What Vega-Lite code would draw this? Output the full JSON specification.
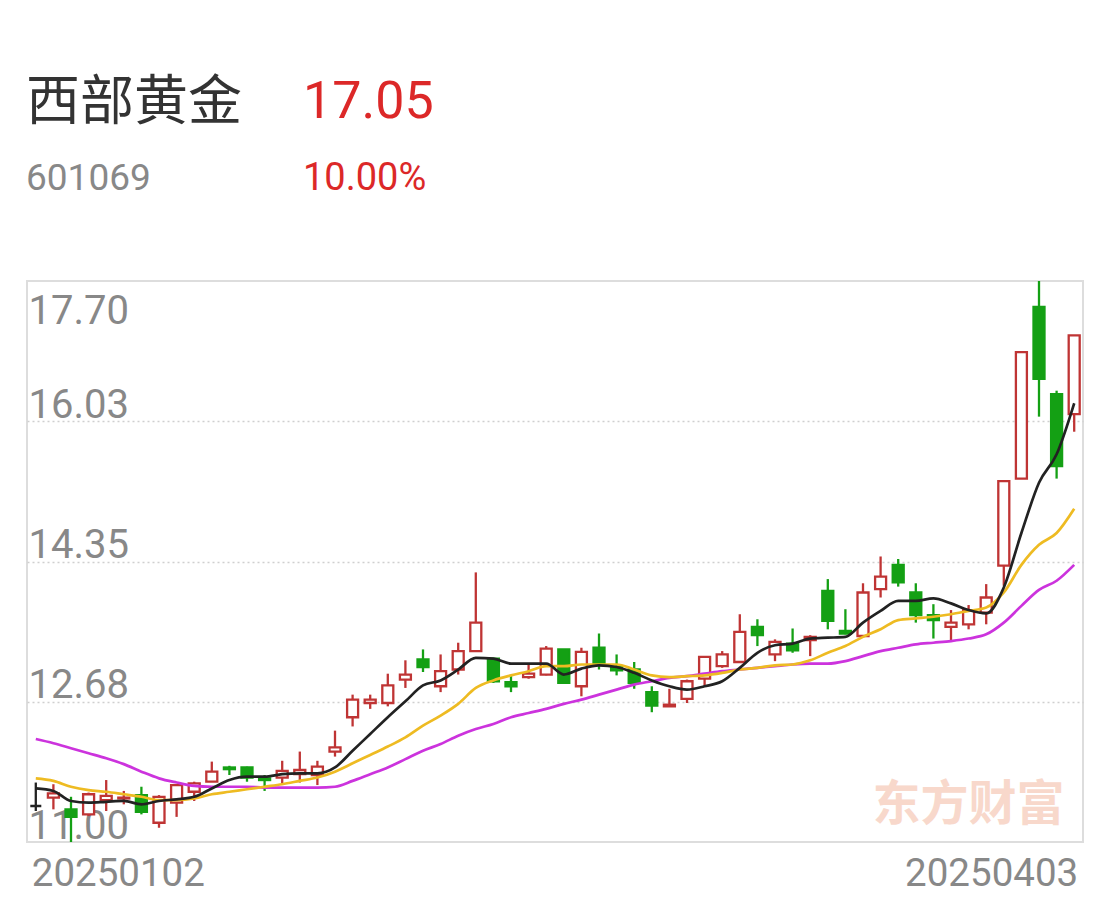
{
  "$schema": "https://vega.github.io/schema/vega-lite/v6.json",
  "background": "white",
  "padding": {"left": 26, "right": 26, "top": 74, "bottom": 0},
  "title": {"text": "西部黄金", "subtitle": "601069", "anchor": "start", "font": "Noto Sans CJK SC", "fontSize": 54, "fontWeight": "normal", "color": "#333333", "subtitleFont": "Roboto", "subtitleFontSize": 37, "subtitleColor": "#888888", "subtitlePadding": 30, "offset": -122, "dx": 0},
  "config": {"view": {"stroke": "#dddddd", "strokeWidth": 2}, "concat": {"spacing": 0}},
  "vconcat": [
    {
      "width": 1056,
      "height": 561,
      "title": {"text": "17.05", "subtitle": "10.00%", "anchor": "start", "font": "Roboto", "fontSize": 52, "fontWeight": "normal", "color": "#dc2828", "subtitleFont": "Roboto", "subtitleFontSize": 38, "subtitleColor": "#dc2828", "subtitlePadding": 31, "offset": 81, "dx": 276},
      "data": {"values": [
        {"d":"20250102","o":11.43,"h":11.71,"l":11.37,"c":11.43,"ma5":11.64,"ma10":11.76,"ma20":12.23},
        {"d":"20250103","o":11.53,"h":11.69,"l":11.39,"c":11.58,"ma5":11.61,"ma10":11.73,"ma20":12.18},
        {"d":"20250106","o":11.39,"h":11.54,"l":11.00,"c":11.30,"ma5":11.49,"ma10":11.66,"ma20":12.12},
        {"d":"20250107","o":11.33,"h":11.59,"l":11.31,"c":11.57,"ma5":11.47,"ma10":11.62,"ma20":12.06},
        {"d":"20250108","o":11.50,"h":11.74,"l":11.37,"c":11.55,"ma5":11.48,"ma10":11.60,"ma20":12.00},
        {"d":"20250109","o":11.52,"h":11.61,"l":11.45,"c":11.53,"ma5":11.49,"ma10":11.57,"ma20":11.93},
        {"d":"20250110","o":11.56,"h":11.66,"l":11.33,"c":11.36,"ma5":11.45,"ma10":11.54,"ma20":11.84},
        {"d":"20250113","o":11.23,"h":11.56,"l":11.17,"c":11.54,"ma5":11.49,"ma10":11.50,"ma20":11.76},
        {"d":"20250114","o":11.47,"h":11.69,"l":11.30,"c":11.68,"ma5":11.51,"ma10":11.50,"ma20":11.71},
        {"d":"20250115","o":11.60,"h":11.72,"l":11.49,"c":11.70,"ma5":11.54,"ma10":11.52,"ma20":11.67},
        {"d":"20250116","o":11.72,"h":11.96,"l":11.72,"c":11.84,"ma5":11.64,"ma10":11.57,"ma20":11.66},
        {"d":"20250117","o":11.89,"h":11.91,"l":11.80,"c":11.87,"ma5":11.74,"ma10":11.60,"ma20":11.66},
        {"d":"20250120","o":11.89,"h":11.90,"l":11.72,"c":11.77,"ma5":11.78,"ma10":11.63,"ma20":11.66},
        {"d":"20250121","o":11.76,"h":11.80,"l":11.61,"c":11.74,"ma5":11.78,"ma10":11.66,"ma20":11.65},
        {"d":"20250122","o":11.77,"h":11.97,"l":11.70,"c":11.85,"ma5":11.81,"ma10":11.69,"ma20":11.65},
        {"d":"20250123","o":11.81,"h":12.08,"l":11.71,"c":11.86,"ma5":11.82,"ma10":11.73,"ma20":11.65},
        {"d":"20250124","o":11.80,"h":11.97,"l":11.68,"c":11.90,"ma5":11.82,"ma10":11.77,"ma20":11.65},
        {"d":"20250127","o":12.08,"h":12.33,"l":12.02,"c":12.13,"ma5":11.89,"ma10":11.84,"ma20":11.66},
        {"d":"20250205","o":12.49,"h":12.76,"l":12.38,"c":12.70,"ma5":12.09,"ma10":11.94,"ma20":11.73},
        {"d":"20250206","o":12.66,"h":12.76,"l":12.59,"c":12.70,"ma5":12.29,"ma10":12.04,"ma20":11.81},
        {"d":"20250207","o":12.66,"h":13.01,"l":12.62,"c":12.87,"ma5":12.49,"ma10":12.14,"ma20":11.89},
        {"d":"20250210","o":12.94,"h":13.17,"l":12.84,"c":13.00,"ma5":12.68,"ma10":12.25,"ma20":11.99},
        {"d":"20250211","o":13.18,"h":13.30,"l":13.03,"c":13.09,"ma5":12.87,"ma10":12.39,"ma20":12.09},
        {"d":"20250212","o":12.86,"h":13.24,"l":12.79,"c":13.04,"ma5":12.93,"ma10":12.51,"ma20":12.17},
        {"d":"20250213","o":13.06,"h":13.38,"l":13.00,"c":13.28,"ma5":13.06,"ma10":12.65,"ma20":12.27},
        {"d":"20250214","o":13.28,"h":14.22,"l":13.27,"c":13.62,"ma5":13.20,"ma10":12.84,"ma20":12.35},
        {"d":"20250217","o":13.19,"h":13.20,"l":12.90,"c":12.92,"ma5":13.19,"ma10":12.93,"ma20":12.41},
        {"d":"20250218","o":12.91,"h":12.99,"l":12.79,"c":12.86,"ma5":13.13,"ma10":12.99,"ma20":12.49},
        {"d":"20250219","o":12.97,"h":13.12,"l":12.95,"c":13.01,"ma5":13.13,"ma10":13.04,"ma20":12.54},
        {"d":"20250220","o":13.00,"h":13.34,"l":12.99,"c":13.31,"ma5":13.13,"ma10":13.10,"ma20":12.59},
        {"d":"20250221","o":13.30,"h":13.30,"l":12.90,"c":12.90,"ma5":13.00,"ma10":13.10,"ma20":12.65},
        {"d":"20250224","o":12.86,"h":13.32,"l":12.74,"c":13.27,"ma5":13.07,"ma10":13.12,"ma20":12.70},
        {"d":"20250225","o":13.32,"h":13.49,"l":13.06,"c":13.14,"ma5":13.11,"ma10":13.12,"ma20":12.76},
        {"d":"20250226","o":13.09,"h":13.24,"l":12.99,"c":13.05,"ma5":13.09,"ma10":13.12,"ma20":12.82},
        {"d":"20250227","o":13.06,"h":13.15,"l":12.83,"c":12.90,"ma5":13.02,"ma10":13.06,"ma20":12.88},
        {"d":"20250228","o":12.79,"h":12.86,"l":12.55,"c":12.63,"ma5":12.93,"ma10":12.99,"ma20":12.92},
        {"d":"20250303","o":12.62,"h":12.83,"l":12.62,"c":12.64,"ma5":12.86,"ma10":12.97,"ma20":12.96},
        {"d":"20250304","o":12.71,"h":12.94,"l":12.66,"c":12.92,"ma5":12.82,"ma10":12.98,"ma20":12.98},
        {"d":"20250305","o":12.95,"h":13.21,"l":12.86,"c":13.21,"ma5":12.86,"ma10":12.99,"ma20":13.01},
        {"d":"20250306","o":13.10,"h":13.28,"l":13.08,"c":13.24,"ma5":12.92,"ma10":13.02,"ma20":13.04},
        {"d":"20250307","o":13.15,"h":13.72,"l":13.15,"c":13.51,"ma5":13.08,"ma10":13.06,"ma20":13.06},
        {"d":"20250310","o":13.57,"h":13.66,"l":13.34,"c":13.47,"ma5":13.26,"ma10":13.08,"ma20":13.08},
        {"d":"20250311","o":13.24,"h":13.42,"l":13.16,"c":13.39,"ma5":13.35,"ma10":13.11,"ma20":13.10},
        {"d":"20250312","o":13.37,"h":13.55,"l":13.26,"c":13.29,"ma5":13.37,"ma10":13.12,"ma20":13.12},
        {"d":"20250313","o":13.41,"h":13.47,"l":13.22,"c":13.45,"ma5":13.43,"ma10":13.17,"ma20":13.13},
        {"d":"20250314","o":14.00,"h":14.14,"l":13.54,"c":13.64,"ma5":13.44,"ma10":13.26,"ma20":13.13},
        {"d":"20250317","o":13.52,"h":13.78,"l":13.48,"c":13.49,"ma5":13.45,"ma10":13.34,"ma20":13.16},
        {"d":"20250318","o":13.46,"h":14.09,"l":13.45,"c":13.98,"ma5":13.62,"ma10":13.45,"ma20":13.22},
        {"d":"20250319","o":14.02,"h":14.41,"l":13.92,"c":14.17,"ma5":13.76,"ma10":13.54,"ma20":13.28},
        {"d":"20250320","o":14.31,"h":14.38,"l":14.05,"c":14.10,"ma5":13.88,"ma10":13.65,"ma20":13.32},
        {"d":"20250321","o":13.98,"h":14.09,"l":13.62,"c":13.71,"ma5":13.88,"ma10":13.67,"ma20":13.36},
        {"d":"20250324","o":13.71,"h":13.84,"l":13.43,"c":13.65,"ma5":13.91,"ma10":13.69,"ma20":13.38},
        {"d":"20250325","o":13.57,"h":13.77,"l":13.41,"c":13.62,"ma5":13.85,"ma10":13.72,"ma20":13.40},
        {"d":"20250326","o":13.60,"h":13.83,"l":13.54,"c":13.77,"ma5":13.77,"ma10":13.76,"ma20":13.43},
        {"d":"20250327","o":13.74,"h":14.08,"l":13.60,"c":13.92,"ma5":13.73,"ma10":13.80,"ma20":13.48},
        {"d":"20250328","o":14.30,"h":15.31,"l":14.06,"c":15.31,"ma5":14.04,"ma10":13.98,"ma20":13.62},
        {"d":"20250331","o":15.34,"h":16.85,"l":15.34,"c":16.85,"ma5":14.69,"ma10":14.31,"ma20":13.82},
        {"d":"20250401","o":17.39,"h":17.70,"l":16.08,"c":16.53,"ma5":15.29,"ma10":14.55,"ma20":14.01},
        {"d":"20250402","o":16.35,"h":16.39,"l":15.34,"c":15.49,"ma5":15.63,"ma10":14.69,"ma20":14.12},
        {"d":"20250403","o":16.11,"h":17.05,"l":15.90,"c":17.05,"ma5":16.24,"ma10":14.98,"ma20":14.31}
      ]},
      "encoding": {
        "x": {
          "field": "d", "type": "ordinal",
          "scale": {"paddingInner": 0, "paddingOuter": 0},
          "axis": {
            "title": null, "values": ["20250102", "20250403"], "domain": false, "ticks": false, "tickSize": 0, "grid": false,
            "labelAngle": 0, "labelFont": "Roboto", "labelFontSize": 38.5, "labelColor": "#888888",
            "labelBaseline": "alphabetic", "labelPadding": 43,
            "labelAlign": {"condition": {"test": "datum.value == '20250102'", "value": "left"}, "value": "right"},
            "labelOffset": {"condition": {"test": "datum.value == '20250102'", "value": -4}, "value": 4}
          }
        }
      },
      "layer": [
        {
          "data": {"values": [{"t": "东方财富"}]},
          "mark": {"type": "text", "font": "Noto Sans CJK SC", "fontWeight": "bold", "fontSize": 48, "color": "#f8d8cb", "align": "center", "baseline": "middle"},
          "encoding": {
            "x": {"datum": "20250326", "type": "ordinal"},
            "y": {"datum": 11.43, "type": "quantitative"},
            "text": {"field": "t"}
          }
        },
        {
          "mark": {"type": "rule", "strokeWidth": 2.3},
          "encoding": {
            "y": {
              "field": "l", "type": "quantitative",
              "scale": {"domain": [11, 17.7], "nice": false, "zero": false},
              "axis": {
                "title": null, "orient": "left", "values": [11, 12.6751, 14.35, 16.0251, 17.7], "format": ".2f",
                "domain": false, "ticks": false, "tickSize": 0, "grid": true,
                "gridColor": "#cfcfcf", "gridDash": [2, 3], "gridWidth": 1.5,
                "gridOpacity": {"condition": {"test": "datum.value > 17.6 || datum.value < 11.1", "value": 0}, "value": 1},
                "labelAlign": "left", "labelPadding": -1, "labelFont": "Roboto", "labelFontSize": 40, "labelColor": "#888888",
                "labelBaseline": "alphabetic",
                "labelOffset": {"condition": {"test": "datum.value > 17.6", "value": 42}, "value": -4}
              }
            },
            "y2": {"field": "h"},
            "color": {
              "condition": [
                {"test": "datum.c > datum.o", "value": "#bf3434"},
                {"test": "datum.c < datum.o", "value": "#14a014"}
              ],
              "value": "#222222"
            }
          }
        },
        {
          "mark": {"type": "bar", "size": 11, "strokeWidth": 2.3},
          "encoding": {
            "y": {"field": "o", "type": "quantitative"},
            "y2": {"field": "c"},
            "fill": {
              "condition": [
                {"test": "datum.c > datum.o", "value": "#ffffff"},
                {"test": "datum.c < datum.o", "value": "#14a014"}
              ],
              "value": "#222222"
            },
            "stroke": {
              "condition": [
                {"test": "datum.c > datum.o", "value": "#bf3434"},
                {"test": "datum.c < datum.o", "value": "#14a014"}
              ],
              "value": "#222222"
            }
          }
        },
        {
          "transform": [{"fold": ["ma20", "ma10", "ma5"], "as": ["ma", "v"]}],
          "mark": {"type": "line", "strokeWidth": 2.7, "interpolate": "monotone"},
          "encoding": {
            "y": {"field": "v", "type": "quantitative"},
            "color": {"field": "ma", "type": "nominal", "scale": {"domain": ["ma20", "ma10", "ma5"], "range": ["#cc33dd", "#eebb22", "#222222"]}, "legend": null}
          }
        }
      ]
    }
  ]
}
